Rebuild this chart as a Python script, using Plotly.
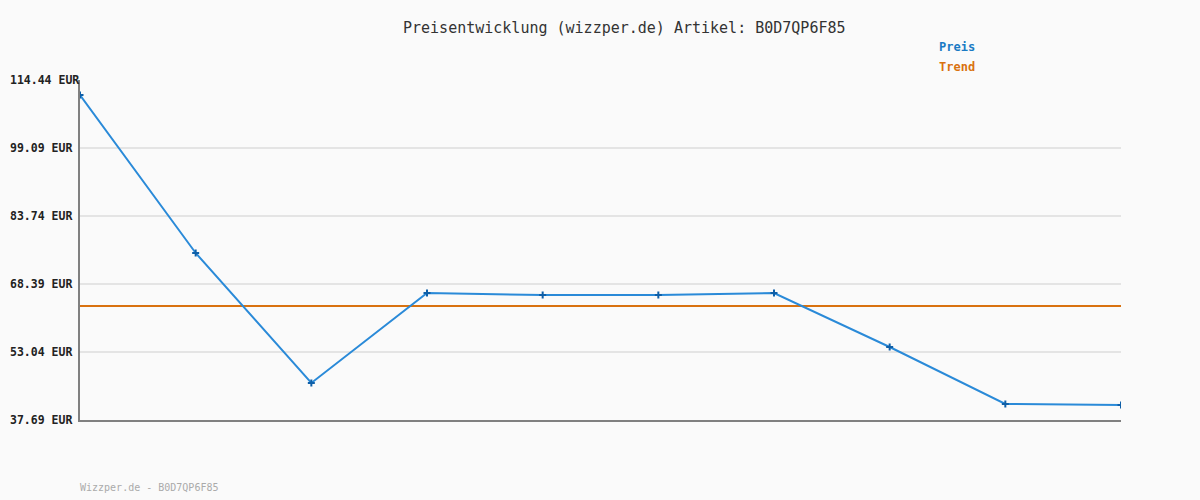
import plotly.graph_objects as go

x_idx = [0, 1, 2, 3, 4, 5, 6, 7, 8, 9]
preis = [111.05, 75.39, 46.04, 66.36, 65.91, 65.91, 66.36, 54.17, 41.30, 41.08]
trend = [63.42] * 10
tick_vals = [37.69, 53.04, 68.39, 83.74, 99.09, 114.44]
tick_text = ["37.69 EUR", "53.04 EUR", "68.39 EUR", "83.74 EUR", "99.09 EUR", "114.44 EUR"]

FONT = "DejaVu Sans Mono"

fig = go.Figure()
fig.add_trace(go.Scatter(x=x_idx, y=trend, mode="lines",
                         line=dict(color="#d9720f", width=2), showlegend=False,
                         hoverinfo="skip"))
fig.add_trace(go.Scatter(x=x_idx, y=preis, mode="lines+markers",
                         line=dict(color="#2a8ad8", width=2),
                         marker=dict(symbol="cross-thin", size=5,
                                     line=dict(color="#0e5fa8", width=2)),
                         showlegend=False))

annotations = [
    dict(text="Preisentwicklung (wizzper.de) Artikel: B0D7QP6F85",
         xref="paper", yref="paper", x=0.5226, y=1.0 + 52/340, xanchor="center", yanchor="middle",
         showarrow=False, font=dict(family=FONT, size=15, color="#333333")),
    dict(text="<b>Preis</b>", xref="paper", yref="paper", x=(939-80)/1041, y=1.0 + 33/340,
         xanchor="left", yanchor="middle", showarrow=False, xshift=-2,
         font=dict(family=FONT, size=12, color="#1a7ac4")),
    dict(text="<b>Trend</b>", xref="paper", yref="paper", x=(939-80)/1041, y=1.0 + 13/340,
         xanchor="left", yanchor="middle", showarrow=False, xshift=-2,
         font=dict(family=FONT, size=12, color="#d9720f")),
    dict(text="Wizzper.de - B0D7QP6F85", xref="paper", yref="paper", x=0, y=-(67/340),
         xanchor="left", yanchor="middle", showarrow=False, xshift=-2,
         font=dict(family=FONT, size=10, color="#aaaaaa")),
]
for v, t in zip(tick_vals, tick_text):
    annotations.append(dict(text="<b>" + t + "</b>", xref="paper", yref="y", x=-70/1041, y=v,
                            xanchor="left", yanchor="middle", showarrow=False, xshift=-2,
                            font=dict(family=FONT, size=11.5, color="#222222")))

fig.update_layout(
    width=1200, height=500,
    margin=dict(l=80, r=79, t=80, b=80),
    paper_bgcolor="#fafafa", plot_bgcolor="#fafafa",
    font=dict(family=FONT, color="#333333"),
    xaxis=dict(range=[0, 9], showgrid=False, zeroline=False, showticklabels=False,
               showline=True, linecolor="#808080", linewidth=2, ticks="", automargin=False),
    yaxis=dict(range=[37.69, 114.44], tickvals=tick_vals, showticklabels=False,
               showgrid=True, gridcolor="#e4e4e4", gridwidth=2, zeroline=False,
               showline=True, linecolor="#808080", linewidth=2, ticks="", automargin=False),
    annotations=annotations,
)

fig.write_html("out.html", config={"displayModeBar": False},
               post_script="document.body.style.margin='0';document.body.style.background='#fafafa';")
